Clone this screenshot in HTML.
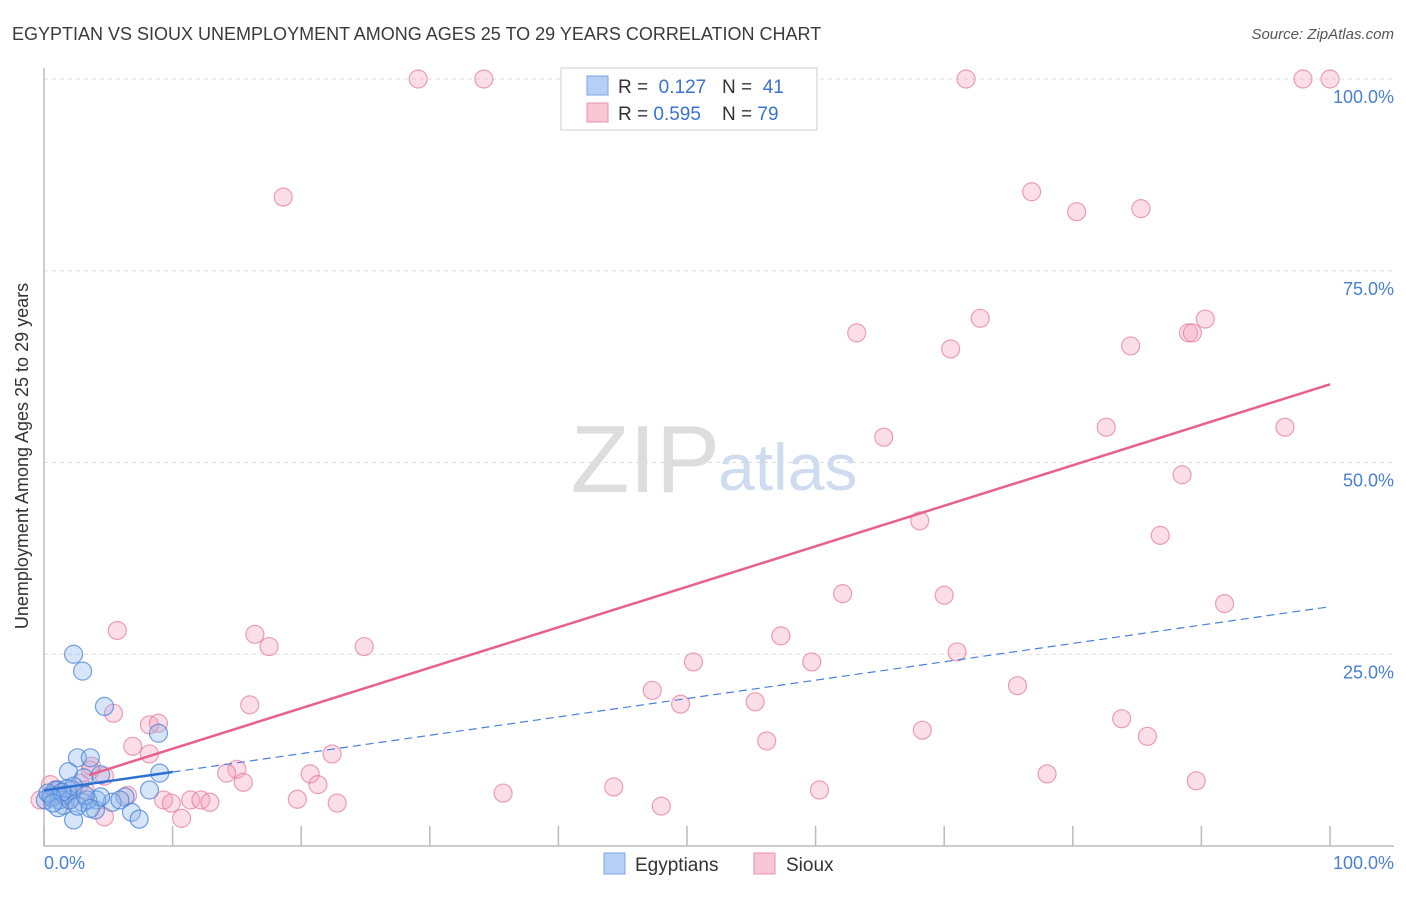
<!DOCTYPE html>
<html><head><meta charset="utf-8">
<style>
body{margin:0;background:#fff;font-family:"Liberation Sans",sans-serif;}
svg text{font-family:"Liberation Sans",sans-serif;}
</style></head>
<body>
<svg id="chart" width="1406" height="892">
<text x="12" y="40" font-size="18" fill="#3a3a3a">EGYPTIAN VS SIOUX UNEMPLOYMENT AMONG AGES 25 TO 29 YEARS CORRELATION CHART</text>
<text x="1394" y="39" font-size="15" fill="#555" font-style="italic" text-anchor="end">Source: ZipAtlas.com</text>
<g id="grid"></g>
<text x="720" y="492" font-size="96" fill="#ddd" font-family="Liberation Serif" text-anchor="end">ZIP</text>
<text x="718" y="490" font-size="66" fill="#cfdcef">atlas</text>
<g id="points"></g>
<g id="lines"></g>
<text x="28" y="456" font-size="18" fill="#333" text-anchor="middle" transform="rotate(-90 28 456)">Unemployment Among Ages 25 to 29 years</text>
<text x="44" y="869" font-size="18" fill="#4a7fd4">0.0%</text>
<text x="1394" y="869" font-size="18" fill="#4a7fd4" text-anchor="end">100.0%</text>
<g>
<rect x="561" y="68" width="256" height="62" fill="#fff" stroke="#ccc"/>
<rect x="587" y="76" width="21" height="19" fill="#b6d0f5" stroke="#7aa6e6"/>
<text x="618" y="93" font-size="19" fill="#333">R = <tspan fill="#3a72d2">&#160;0.127</tspan>&#160;&#160;&#160;N = <tspan fill="#3a72d2">&#160;41</tspan></text>
<rect x="587" y="103" width="21" height="19" fill="#f8c6d5" stroke="#ec90ad"/>
<text x="618" y="120" font-size="19" fill="#333">R = <tspan fill="#3a72d2">0.595</tspan>&#160;&#160;&#160;&#160;N = <tspan fill="#3a72d2">79</tspan></text>
</g>
<g>
<rect x="604" y="853" width="21" height="21" fill="#b6d0f5" stroke="#7aa6e6"/>
<text x="635" y="871" font-size="19" fill="#333">Egyptians</text>
<rect x="754" y="853" width="21" height="21" fill="#f8c6d5" stroke="#ec90ad"/>
<text x="786" y="871" font-size="19" fill="#333">Sioux</text>
</g>
</svg>
<script>
const yTicks=[25,50,75,100];
const yTickLabels=["25.0%","50.0%","75.0%","100.0%"];
const xTicks=[0,10,20,30,40,50,60,70,80,90,100];
const siouxX=[29.1,34.2,71.7,97.9,100,18.6,76.8,80.3,85.3,63.2,70.5,72.8,84.5,89,89.3,90.3,65.3,82.6,96.5,88.5,68.1,86.8,62.1,70,91.8,5.7,16.4,17.5,24.9,57.3,50.5,59.7,71,47.3,75.7,49.5,16,55.3,5.4,8.2,8.9,68.3,83.8,85.8,56.2,6.9,8.2,22.4,3.7,15,14.2,20.7,78,4.7,15.5,21.3,89.6,6.5,9.3,9.9,11.4,12.2,12.9,19.7,22.8,35.7,44.3,60.3,10.7,48,4.7,2.8,0.5,0.9,1.2,2.0,-0.3,3.6,3.2];
const siouxY=[100,100,100,100,100,84.6,85.3,82.7,83.1,66.9,64.8,68.8,65.2,66.9,66.9,68.7,53.3,54.6,54.6,48.4,42.4,40.5,32.9,32.7,31.6,28.1,27.6,26,26,27.4,24,24,25.3,20.3,20.9,18.5,18.4,18.8,17.3,15.8,16,15.1,16.6,14.3,13.7,13,12,12,10.4,10,9.5,9.4,9.4,9.1,8.3,8,8.5,6.6,6,5.6,6,6,5.7,6.1,5.6,6.9,7.7,7.3,3.6,5.2,3.8,8.2,8,7.3,6.6,6,6,9.9,7.3];
const egyX=[2.3,3,4.7,8.9,2.6,3.6,9,1.9,3.1,4.4,2.2,6.3,8.2,1.1,5.3,4.1,6.8,7.4,2.3,4,3,1.5,0.5,0.9,1.6,0.1,1.2,2,0.6,0.3,1.8,2.3,1.4,1.1,3.4,2.6,4.4,5.9,3.2,3.6,0.7];
const egyY=[25,22.8,18.2,14.7,11.5,11.5,9.5,9.7,8.9,9.3,7.3,6.4,7.3,7.3,5.7,6,4.4,3.5,3.4,4.7,5.7,5.3,6.6,7.3,6.6,6,6,6,6.3,6.9,7.5,7.8,7,5,6,5.2,6.4,6,6.6,4.9,5.6];
const siouxTrend=[7.4,60.2];
const egyTrend=[7.25,31.2];
const X=v=>44+v*12.86, Y=v=>846-v*7.67;
const NS="http://www.w3.org/2000/svg";
function mk(t,a,p){const e=document.createElementNS(NS,t);for(const k in a)e.setAttribute(k,a[k]);p.appendChild(e);return e;}
const grid=document.getElementById('grid');
yTicks.forEach((t,i)=>{
 const l=mk('line',{x1:44,x2:1394,y1:Y(t),y2:Y(t),stroke:'#ddd','stroke-dasharray':'4,4'},grid);
 
 
 const tx=mk('text',{x:1394,y:Y(t)+24,'font-size':18,fill:'#4a7fd4','text-anchor':'end'},grid);
 tx.textContent=yTickLabels[i];
 
 
});
const ax=mk('path',{d:'M44 68 V846 H1394',fill:'none',stroke:'#bbb','stroke-width':1.5},grid);


xTicks.forEach(t=>{
 const l=mk('line',{x1:X(t),x2:X(t),y1:826,y2:846,stroke:'#bbb','stroke-width':1.5},grid);
 
 
});
const pts=document.getElementById('points');
siouxX.forEach((v,i)=>{
 const c=mk('circle',{cx:X(v),cy:Y(siouxY[i]),r:9,fill:'rgba(245,160,188,0.35)',stroke:'rgba(230,120,155,0.7)','stroke-width':1.2},pts);
 
 
});
egyX.forEach((v,i)=>{
 const c=mk('circle',{cx:X(v),cy:Y(egyY[i]),r:9,fill:'rgba(140,180,235,0.35)',stroke:'rgba(70,130,215,0.75)','stroke-width':1.2},pts);
 
 
});
const lines=document.getElementById('lines');
const s=mk('line',{x1:X(3.5),y1:Y(siouxTrend[0]+(siouxTrend[1]-siouxTrend[0])*0.035),x2:X(100),y2:Y(siouxTrend[1]),stroke:'#e8608e','stroke-width':2.5},lines);


const eSolid=mk('line',{x1:X(0),y1:Y(egyTrend[0]),x2:X(10),y2:Y(egyTrend[0]+(egyTrend[1]-egyTrend[0])*0.1),stroke:'#2d6fd2','stroke-width':2.5},lines);


const eDash=mk('line',{x1:X(10),y1:Y(egyTrend[0]+(egyTrend[1]-egyTrend[0])*0.1),x2:X(100),y2:Y(egyTrend[1]),stroke:'#4a80d8','stroke-width':1.2,'stroke-dasharray':'8,5'},lines);


</script>
</body></html>
